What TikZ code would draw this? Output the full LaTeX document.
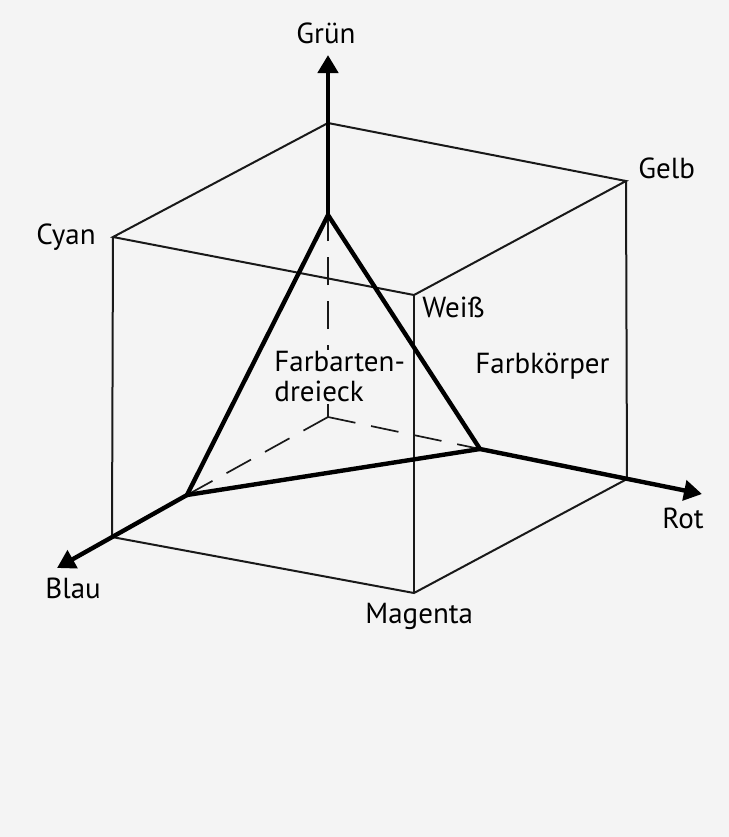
\documentclass[tikz,border=0pt]{standalone}
\usepackage{fontspec}
\setmainfont{PT Sans}
\usetikzlibrary{arrows.meta, calc}
\definecolor{scanbg}{gray}{0.955}
\tikzset{
  cblabel/.style={
    inner sep=0pt,
    font=\fontsize{14.5}{15}\selectfont,
  },
  % thin = cube edges, thick = triangle and axes, dashed = hidden axis parts
  cbedge/.style={line width=1pt, draw=black!90},
  cbhidden/.style={line width=0.85pt, draw=black!90, dash pattern=on 14pt off 8pt},
  cbtri/.style={line width=2.2pt, draw=black, line join=round},
  cbarr/.style={-{Triangle[length=9pt, width=10pt]}, line width=2.2pt, draw=black},
}

\begin{document}
\begin{tikzpicture}[x=0.5pt, y=-0.5pt]
  \fill[scanbg] (0,0) rectangle (729,837);
  \useasboundingbox (0,0) rectangle (729,837);

  % cube corners
  \coordinate (black) at (328,417);
  \coordinate (green) at (328,123);
  \coordinate (cyan) at (113,237);
  \coordinate (yellow) at (626,181);
  \coordinate (white) at (414,295);
  \coordinate (blue) at (112,537);
  \coordinate (magenta) at (414,593);
  \coordinate (red) at (627,479);

  % triangle corners and arrow tips
  \coordinate (triG) at (328,215);
  \coordinate (triB) at (187,495);
  \coordinate (triR) at (480,449);
  \coordinate (tipG) at (328,55);
  \coordinate (tipB) at (57,568);
  \coordinate (tipR) at (702,494);

  % --- hidden parts of the axes ---
  \draw[cbhidden] (black) -- (triG);
  \draw[cbhidden] (black) -- (triB);
  \draw[cbhidden] (black) -- (triR);

  % --- cube ---
  \draw[cbedge] (cyan) -- (green) -- (yellow) -- (white) -- cycle;
  \draw[cbedge] (cyan) -- (blue) -- (magenta) -- (red) -- (yellow);
  \draw[cbedge] (white) -- (magenta);

  % --- triangle and axes ---
  \draw[cbtri] (triG) -- (triB) -- (triR) -- cycle;
  \draw[cbarr] (triG) -- (tipG);
  \draw[cbarr] (triB) -- (tipB);
  \draw[cbarr] (triR) -- (tipR);

  % --- labels ---
  \node[cblabel, anchor=base] (lGruen) at (326,43) {Grün};
  \node[cblabel, anchor=base east] (lCyan) at (96,244) {Cyan};
  \node[cblabel, anchor=base west] (lGelb) at (638,178) {Gelb};
  \node[cblabel, anchor=base west] (lWeiss) at (422,317) {Weiß};
  \node[cblabel, anchor=west, align=left, fill=scanbg, inner sep=1pt]
    (lDreieck) at (272,377) {Farbarten-\\dreieck};
  \node[cblabel, anchor=base west] (lKoerper) at (475,373) {Farbkörper};
  \node[cblabel, anchor=base west] (lRot) at (662,528) {Rot};
  \node[cblabel, anchor=base west] (lBlau) at (45,598) {Blau};
  \node[cblabel, anchor=base west] (lMagenta) at (365,623) {Magenta};
\end{tikzpicture}
\end{document}
